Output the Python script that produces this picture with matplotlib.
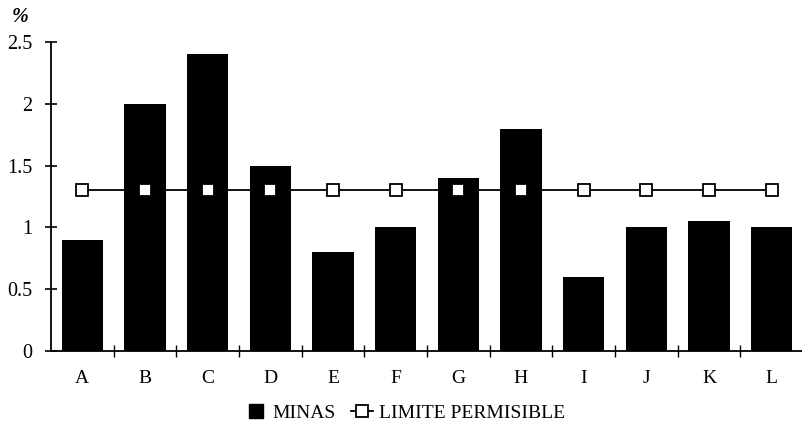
import numpy as np
import matplotlib.pyplot as plt
from matplotlib.lines import Line2D

categorias = ["A", "B", "C", "D", "E", "F", "G", "H", "I", "J", "K", "L"]
minas = [0.9, 2.0, 2.4, 1.5, 0.8, 1.0, 1.4, 1.8, 0.6, 1.0, 1.05, 1.0]
limite = [1.3] * len(categorias)
yticks = [0, 0.5, 1, 1.5, 2, 2.5]
ytick_labels = ["0", "0.5", "1", "1.5", "2", "2.5"]

plt.rcParams['font.family'] = ['Liberation Serif', 'DejaVu Serif']

fig = plt.figure(figsize=(8.02, 4.25), dpi=100)
ax = fig.add_axes([51/802, 1 - 351/425, 752/802, (351 - 42)/425])

x = np.arange(len(categorias))
ax.bar(x, minas, width=0.66, color="black", zorder=2)
linea, = ax.plot(x, limite, color="black", lw=1.3, marker="s", markersize=8,
                 markerfacecolor="white", markeredgecolor="black",
                 markeredgewidth=1.3, zorder=3)

ax.set_xlim(-0.5, len(categorias) - 0.5)
ax.set_ylim(0, 2.5)

for s in ["top", "right"]:
    ax.spines[s].set_visible(False)
ax.spines["left"].set_linewidth(1.3)
ax.spines["bottom"].set_linewidth(1.3)

ax.set_yticks(yticks)
ax.set_yticklabels(ytick_labels, fontsize=14.5)
ax.tick_params(axis="y", direction="inout", length=9, width=1.2, pad=9)

# ticks between categories, labels centred under each bar
ax.set_xticks(x + 0.5)
ax.set_xticklabels([])
ax.tick_params(axis="x", direction="inout", length=9, width=1.0)
for xi, c in zip(x, categorias):
    ax.text(xi, -0.22, c, ha="center", va="center", fontsize=14)

fig.text(20/802, 1 - 17/425, "%", fontsize=14.5, ha="center", va="center",
         fontweight="bold", style="italic")

# square swatch for the bars, like the original key
swatch = Line2D([], [], linestyle="none", marker="s", markersize=10,
                color="black")
fig.legend([swatch, linea], ["MINAS", "LIMITE PERMISIBLE"], loc="center",
           bbox_to_anchor=(405/802, 1 - 413/425), ncol=2, frameon=False,
           fontsize=14, handlelength=1.1, handletextpad=0.3,
           columnspacing=0.8)

fig.savefig("out.png", dpi=100)
